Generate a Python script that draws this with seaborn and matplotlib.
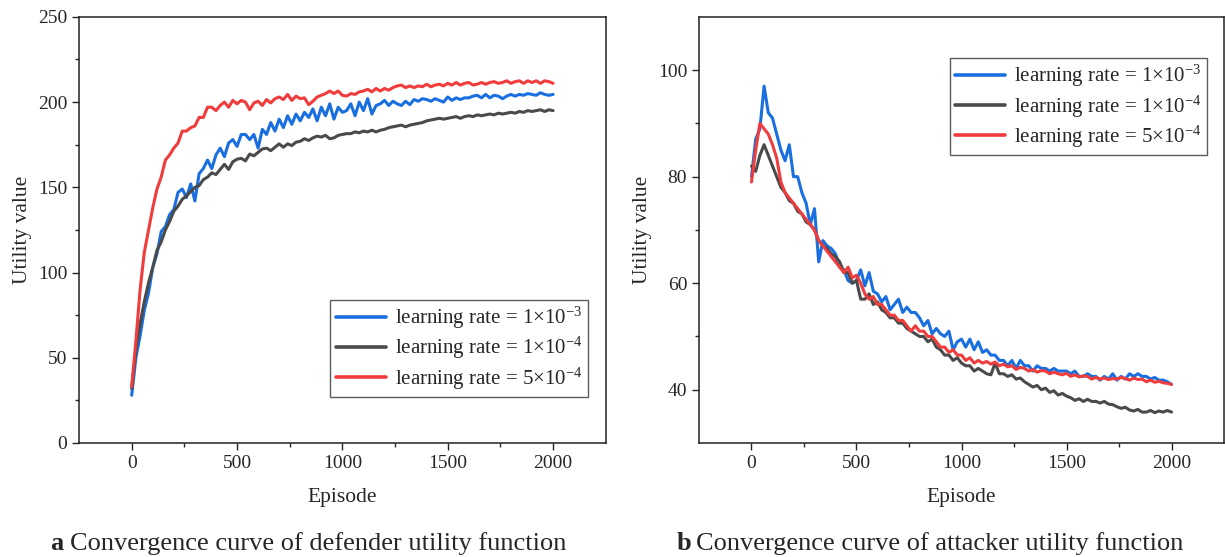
import matplotlib
matplotlib.use('agg')
import matplotlib.pyplot as plt
import pandas as pd
import numpy as np
import seaborn as sns

# episodes sampled every 20 steps
episodes = list(range(0, 2001, 20))

labels = ["learning rate = 1×10$^{-3}$",
          "learning rate = 1×10$^{-4}$",
          "learning rate = 5×10$^{-4}$"]
colors = ["#1a6fe0", "#4a4a4a", "#f03c3c"]

# defender utility (panel a)
def_lr1e3 = [28, 50, 63, 78, 88, 103, 111, 124, 127, 134, 137, 147, 149, 144, 152, 142, 158, 161, 166, 161,
             169, 173, 168, 176, 178, 174, 181, 181, 178, 181, 173, 184, 181, 188, 183, 190, 185, 192, 187, 193,
             189, 194, 191, 196, 189, 197, 192, 199, 190, 197, 194, 195, 199, 192, 200, 195, 202, 193, 198, 199,
             201, 198, 200.5, 199, 198, 200.5, 198.5, 201.5, 200.5, 202, 201.5, 200.5, 202, 201, 200, 203, 201, 202.5, 201.5, 202.5,
             202.5, 203.5, 204, 202.5, 204.5, 202.5, 204, 203.5, 202, 203.5, 204.5, 203.5, 204.5, 204, 205, 204.5, 204, 205.5, 204.5, 204,
             204.5]
def_lr1e4 = [32, 55, 70, 83, 94, 103, 113, 118, 125, 130, 136, 139, 143, 145, 147.5, 150, 151, 154.5, 156, 158.5,
             157.5, 160.5, 163.5, 160.5, 165, 166.5, 167, 165.5, 169.5, 168.5, 170.5, 172.5, 173, 171.5, 173.5, 175.5, 173.5, 175.5, 174.5, 176.5,
             177, 178.5, 177.5, 179, 180, 179.5, 180.5, 178.5, 179, 180.5, 181, 181.5, 181.5, 182.5, 182, 183, 182.5, 183.5, 182.5, 183.5,
             184, 185, 185.5, 186, 186.5, 185.5, 186.5, 187, 187.5, 188, 189, 189.5, 190, 190.5, 190, 190.5, 191, 191.5, 190.5, 191.5,
             192, 191.5, 192.5, 192, 192.5, 193, 192.5, 193.5, 193, 193.5, 194, 193.5, 194.5, 194, 195, 194.5, 195, 195.5, 194.5, 195.5,
             195]
def_lr5e4 = [33, 60, 90, 112, 125, 138, 149, 156, 166, 169, 173, 176, 183, 183, 185, 186, 191, 191, 197, 197,
             195, 198, 200, 197, 201, 199, 201, 200, 195.5, 199.5, 200.5, 198, 201.5, 199.5, 202, 203, 201.5, 204.5, 201, 203.5,
             202, 202.5, 198.5, 200.5, 203, 204, 205, 206.5, 205, 206.5, 204, 203.5, 205, 204.5, 206, 206.5, 207.5, 206, 208, 206.5,
             208, 207, 208.5, 209.5, 210, 208.5, 209.5, 208.5, 209.5, 209, 210.5, 209, 210, 210.5, 209.5, 211, 210, 211.5, 210, 211,
             211.5, 210, 210.5, 211.5, 210.5, 211.5, 212, 211, 211.5, 212.5, 211, 212, 212.5, 211, 212.5, 211.5, 212.5, 211, 212.5, 212,
             211]

# attacker utility (panel b)
att_lr1e3 = [80, 87, 89, 97, 92, 91, 88, 85, 83, 86, 80, 80, 77, 75, 71, 74, 64, 68, 67, 66.5,
             65.5, 63, 62.5, 60.5, 60, 60.5, 62.5, 59.5, 62, 58.5, 58, 56.5, 57.5, 55, 56, 57, 54.5, 55.5, 54.5, 54.5,
             53.5, 52, 53, 50.5, 51.5, 50.5, 50, 51, 47.5, 49, 49.5, 48, 49.5, 47.5, 49, 47, 47.5, 46.5, 46.5, 45.5,
             45.5, 44.5, 45.5, 44, 45.5, 44.5, 44.5, 43.5, 44.5, 44, 44, 43.5, 44, 43.5, 43.5, 43.5, 43, 43.5, 42.5, 42.5,
             43, 42.5, 42.5, 41.8, 42.5, 42, 43, 41.8, 42.5, 42, 43, 42.5, 43, 42.5, 42.5, 42, 42.3, 41.8, 41.8, 41.5,
             41]
att_lr1e4 = [82, 81, 84, 86, 84, 82, 80, 78, 77, 75.5, 75, 73.5, 73, 71.5, 71, 70, 68, 67, 66.5, 65.5,
             65, 64, 62, 62, 60, 60.5, 57, 57, 58, 56, 56.5, 55, 54.5, 53.5, 53.5, 52.5, 52.5, 51.5, 51, 50.5,
             50, 50, 49, 49.5, 48, 47.5, 46.5, 46.5, 45.5, 46, 45, 44.5, 44.5, 43.5, 44, 43.5, 43, 42.8, 45, 43,
             43, 42.5, 42.8, 42, 42.2, 41.5, 41, 40.5, 40.8, 40, 40.3, 39.5, 39.8, 39, 39.3, 38.8, 38.5, 38, 38.3, 37.8,
             38.2, 37.8, 37.8, 37.5, 37.8, 37.3, 37.2, 36.8, 36.5, 36.7, 36.2, 36, 36.3, 35.8, 35.8, 36.1, 35.7, 36, 35.8, 36.1,
             35.8]
att_lr5e4 = [79, 85, 90, 89, 88, 86, 83.5, 79, 77, 76, 75, 74, 73, 72, 71, 70, 68, 67, 66, 65,
             64, 63, 62, 63, 61, 61.5, 60, 58, 57, 57.5, 56, 56, 55, 54, 54, 53, 53, 52, 51, 52,
             51, 51, 50, 50, 49, 48, 48, 47, 47.5, 46.5, 46.5, 45.5, 46, 45, 45.5, 45, 45.3, 44.8, 45.2, 44.5,
             44.8, 44.3, 44.5, 43.8, 44.2, 44, 43.5, 43.8, 43.3, 43.6, 43.5, 43, 43.3, 43, 42.8, 43.1, 42.5, 42.8, 42.4, 42.6,
             42.5, 42, 42.3, 42, 42.2, 41.9, 42.1, 42, 42.3, 42.1, 41.8, 42.2, 41.9, 42, 41.5, 41.8, 41.4, 41.6, 41.3, 41.2,
             41]


def long_df(series):
    parts = []
    for lab, vals in zip(labels, series):
        parts.append(pd.DataFrame({"Episode": episodes, "value": vals, "lr": lab}))
    return pd.concat(parts, ignore_index=True)


df_def = long_df([def_lr1e3, def_lr1e4, def_lr5e4])
df_att = long_df([att_lr1e3, att_lr1e4, att_lr5e4])

sns.set_style("ticks")
plt.rcParams['font.family'] = ['Liberation Serif', 'DejaVu Serif']
plt.rcParams['mathtext.fontset'] = 'custom'
plt.rcParams['mathtext.rm'] = 'Liberation Serif'
plt.rcParams['mathtext.it'] = 'Liberation Serif:italic'
plt.rcParams['xtick.direction'] = 'out'
plt.rcParams['ytick.direction'] = 'out'

fig = plt.figure(figsize=(12.25, 5.57), dpi=100)
ax1 = fig.add_axes([0.0645, 0.2047, 0.430, 0.765])
ax2 = fig.add_axes([0.5706, 0.2047, 0.4286, 0.765])
pal = dict(zip(labels, colors))

for ax, df in [(ax1, df_def), (ax2, df_att)]:
    sns.lineplot(data=df, x="Episode", y="value", hue="lr", palette=pal,
                 linewidth=2.2, ax=ax, legend=True)
    ax.set_xlim(-250, 2250)
    ax.set_xticks([0, 500, 1000, 1500, 2000])
    ax.set_xticks([250, 750, 1250, 1750], minor=True)
    ax.set_xlabel("Episode", fontsize=15.5, labelpad=12)
    ax.set_ylabel("Utility value", fontsize=15.5, labelpad=4)
    ax.tick_params(axis='both', which='major', labelsize=14, length=5, width=1,
                   top=False, right=False)
    ax.tick_params(axis='both', which='minor', length=3, width=1, top=False, right=False)
    for s in ax.spines.values():
        s.set_linewidth(1.1)
        s.set_color("#222222")

ax1.set_ylim(0, 250)
ax1.set_yticks([0, 50, 100, 150, 200, 250])
ax1.set_yticks([25, 75, 125, 175, 225], minor=True)
ax2.set_ylim(30, 110)
ax2.set_yticks([40, 60, 80, 100])
ax2.set_yticks([50, 70, 90], minor=True)

leg_kw = dict(fontsize=15, frameon=True, fancybox=False, edgecolor="#333333",
              handlelength=2.4, borderpad=0.25, labelspacing=0.2, handletextpad=0.45,
              borderaxespad=0)
leg1 = ax1.legend(loc="lower right", bbox_to_anchor=(0.966, 0.108), **leg_kw)
leg2 = ax2.legend(loc="upper right", bbox_to_anchor=(0.968, 0.904), **leg_kw)
for leg in (leg1, leg2):
    leg.get_frame().set_linewidth(1.0)
    for h in leg.get_lines():
        h.set_linewidth(2.6)

# captions
fig.text(0.041, 0.012, "a", fontsize=19, fontweight="bold")
fig.text(0.057, 0.012, "Convergence curve of defender utility function", fontsize=19)
fig.text(0.552, 0.012, "b", fontsize=19, fontweight="bold")
fig.text(0.568, 0.012, "Convergence curve of attacker utility function", fontsize=19)

fig.savefig("out.png", dpi=100)
plt.close(fig)
